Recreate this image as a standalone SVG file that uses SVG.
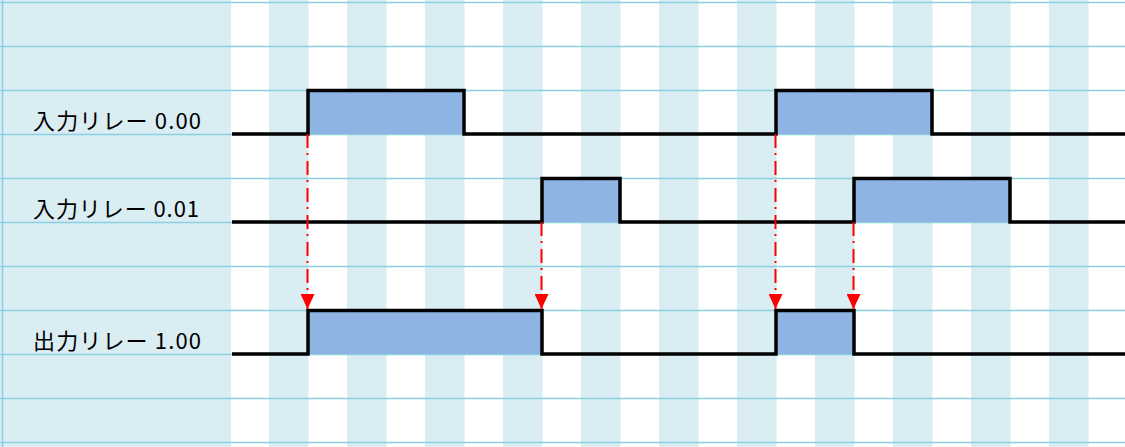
<svg xmlns="http://www.w3.org/2000/svg" width="1125" height="447" viewBox="0 0 1125 447">
<defs>
<style>
.stripe{fill:#daedf3}
.grid{stroke:#8ccfdf;stroke-width:1.5;fill:none}
.fill{fill:#8eb4e3}
.sig{stroke:#000;stroke-width:3.5;fill:none;stroke-linejoin:miter}
.arr{stroke:#ff0000;stroke-width:2;fill:none;stroke-dasharray:14 5 2 6}
.lbl{font-family:"Noto Sans CJK JP","Noto Sans",sans-serif;font-size:22px;fill:#000}
</style>
<marker id="ah" viewBox="0 0 15 14" refX="15" refY="7" markerWidth="15" markerHeight="14" markerUnits="userSpaceOnUse" orient="auto">
<path d="M0,0 L15,7 L0,14 Z" fill="#ff0000"/>
</marker>
</defs>
<rect width="1125" height="447" fill="#ffffff"/>
<g id="background">
<rect class="stripe" x="0" y="0" width="231" height="447"/>
<rect class="stripe" x="269" y="0" width="39.5" height="447"/>
<rect class="stripe" x="347" y="0" width="39.5" height="447"/>
<rect class="stripe" x="425" y="0" width="39.5" height="447"/>
<rect class="stripe" x="503" y="0" width="39.5" height="447"/>
<rect class="stripe" x="581" y="0" width="39.5" height="447"/>
<rect class="stripe" x="659" y="0" width="39.5" height="447"/>
<rect class="stripe" x="737" y="0" width="39.5" height="447"/>
<rect class="stripe" x="815" y="0" width="39.5" height="447"/>
<rect class="stripe" x="893" y="0" width="39.5" height="447"/>
<rect class="stripe" x="971" y="0" width="39.5" height="447"/>
<rect class="stripe" x="1049" y="0" width="39.5" height="447"/>
<path class="grid" d="M0,2.5H1125M0,46.5H1125M0,90.5H1125M0,134.5H1125M0,178.5H1125M0,222.5H1125M0,266.5H1125M0,310.5H1125M0,354.5H1125M0,398.5H1125M0,442.5H1125M2.5,0V447"/>
</g>
<g id="fills">
<rect class="fill" x="308" y="90" width="156" height="44"/>
<rect class="fill" x="776" y="90" width="156" height="44"/>
<rect class="fill" x="542" y="178" width="78" height="44"/>
<rect class="fill" x="854" y="178" width="156" height="44"/>
<rect class="fill" x="308" y="310" width="234" height="44"/>
<rect class="fill" x="776" y="310" width="78" height="44"/>
</g>
<g id="input-000">
<text class="lbl" x="33" y="129" textLength="168" lengthAdjust="spacing">入力リレー 0.00</text>
<path class="sig" d="M232,134H308V90.5H464V134H776V90.5H932V134H1125"/>
</g>
<g id="input-001">
<text class="lbl" x="33" y="217" textLength="166" lengthAdjust="spacing">入力リレー 0.01</text>
<path class="sig" d="M232,222H542V178.5H620V222H854V178.5H1010V222H1125"/>
</g>
<g id="output-100">
<text class="lbl" x="33" y="349" textLength="168" lengthAdjust="spacing">出力リレー 1.00</text>
<path class="sig" d="M232,354H308V310.5H542V354H776V310.5H854V354H1125"/>
</g>
<g id="connectors">
<path class="arr" d="M307.5,134V309" marker-end="url(#ah)"/>
<path class="arr" d="M541.5,222V309" marker-end="url(#ah)"/>
<path class="arr" d="M775.5,134V309" marker-end="url(#ah)"/>
<path class="arr" d="M853.5,222V309" marker-end="url(#ah)"/>
</g>
</svg>
